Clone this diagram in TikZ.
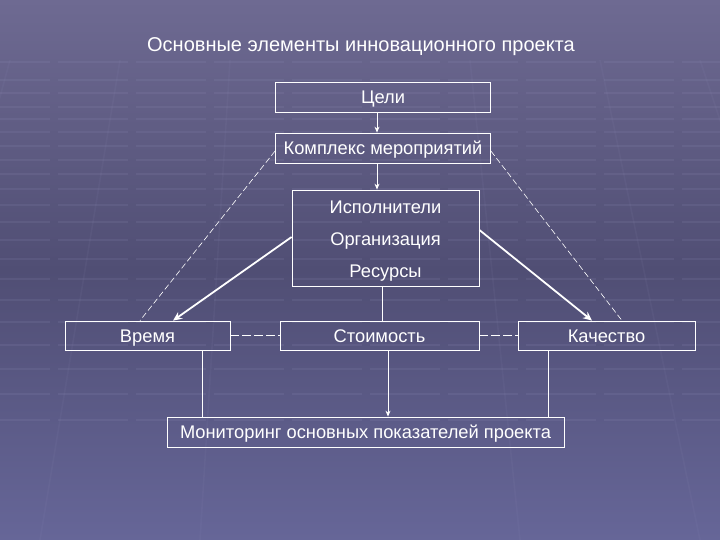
\documentclass[tikz,border=0pt]{standalone}
\usepackage{fontspec}
\setmainfont{Liberation Sans}
\usetikzlibrary{calc,arrows.meta}
\definecolor{bgtop}{RGB}{110,106,146}
\definecolor{bgmid}{RGB}{80,78,116}
\definecolor{bgbot}{RGB}{102,102,152}
\definecolor{gridc}{RGB}{150,148,190}
\tikzset{
  box/.style={draw=white, line width=0.8pt, inner sep=0pt, text=white,
    text height=13.5pt, text depth=0pt,
    font=\fontsize{18.3}{21}\selectfont},
  lbl/.style={inner sep=0pt, text=white, text height=13.5pt, text depth=0pt,
    font=\fontsize{18.3}{21}\selectfont},
  thinarr/.style={draw=white, line width=0.8pt, -{Stealth[length=6pt,width=5pt]}},
  thickarr/.style={draw=white, line width=1.8pt, -{Stealth[length=9pt,width=8pt]}},
  dashline/.style={draw=white, line width=0.6pt, dash pattern=on 6pt off 3pt},
  hdash/.style={draw=white, line width=0.8pt, dash pattern=on 9pt off 3pt},
  plain/.style={draw=white, line width=0.8pt},
  gridline/.style={draw=gridc, line width=1.6pt, opacity=0.14}
}
\begin{document}
\begin{tikzpicture}[x=1pt,y=-1pt]
\useasboundingbox (0,0) rectangle (720,540);
\shade[top color=bgtop, bottom color=bgbot, middle color=bgmid, shading angle=0] (0,0) rectangle (720,540);
% faint perspective grid
\foreach \yy in {62,80,93,107,119,132,146,160,174,189,205,222,240,259,279,300,322,345,369,394,420}{
  \draw[gridline, dash pattern=on 70pt off 8pt] (-20,\yy) -- (740,\yy);
}
\foreach \xa/\xb in {10/-120,120/40,230/200,470/520,600/700,700/860}{
  \draw[gridline, opacity=0.08] (\xa,60) -- (\xb,540);
}
% title
\node[inner sep=0pt, text=white, font=\fontsize{20}{24}\selectfont] (title) at (361,47) {Основные элементы инновационного проекта};
% nodes
\node[box, minimum width=215pt, minimum height=30pt] (celi) at (383,97) {Цели};
\node[box, minimum width=215pt, minimum height=30pt] (kompl) at (383,148) {Комплекс мероприятий};
\node[box, minimum width=187pt, minimum height=96pt] (big) at (385.5,238) {};
\node[lbl] (isp) at (385.5,206.5) {Исполнители};
\node[lbl] (org) at (385.5,239) {Организация};
\node[lbl] (res) at (385.5,270.5) {Ресурсы};
\node[box, minimum width=165pt, minimum height=29pt] (vremya) at (147.5,335.5) {Время};
\node[box, minimum width=199pt, minimum height=29pt] (stoim) at (379.5,335.5) {Стоимость};
\node[box, minimum width=177pt, minimum height=29pt] (kach) at (606.5,335.5) {Качество};
\node[box, minimum width=397pt, minimum height=30pt] (monit) at (365.5,432) {Мониторинг основных показателей проекта};
% helper coordinates
\coordinate (ax) at ($(celi.south)+(-6,0)$);
\coordinate (bx) at ($(big.south)+(-3.5,0)$);
\coordinate (v1) at ($(vremya.south)+(54.5,0)$);
\coordinate (v2) at ($(stoim.south)+(8.5,0)$);
\coordinate (v3) at ($(kach.south)+(-58.5,0)$);
% connectors
\draw[thinarr] (ax) -- (ax |- kompl.north);
\draw[thinarr] (ax |- kompl.south) -- (ax |- big.north);
\draw[plain] (bx) -- (bx |- stoim.north);
\draw[thickarr] ($(big.west)+(0,-1)$) -- ($(vremya.north)+(25.5,0)$);
\draw[thickarr] ($(big.east)+(0,-8)$) -- ($(kach.north)+(-14.5,0)$);
\draw[dashline] ($(kompl.west)+(0,3)$) -- ($(vremya.north)+(-7.5,0)$);
\draw[dashline] ($(kompl.east)+(0,3)$) -- ($(kach.north)+(15.5,0)$);
\draw[hdash] (vremya.east) -- (stoim.west);
\draw[hdash] (stoim.east) -- (kach.west);
\draw[plain] (v1) -- (v1 |- monit.north);
\draw[plain] (v3) -- (v3 |- monit.north);
\draw[thinarr] (v2) -- (v2 |- monit.north);
\end{tikzpicture}
\end{document}
